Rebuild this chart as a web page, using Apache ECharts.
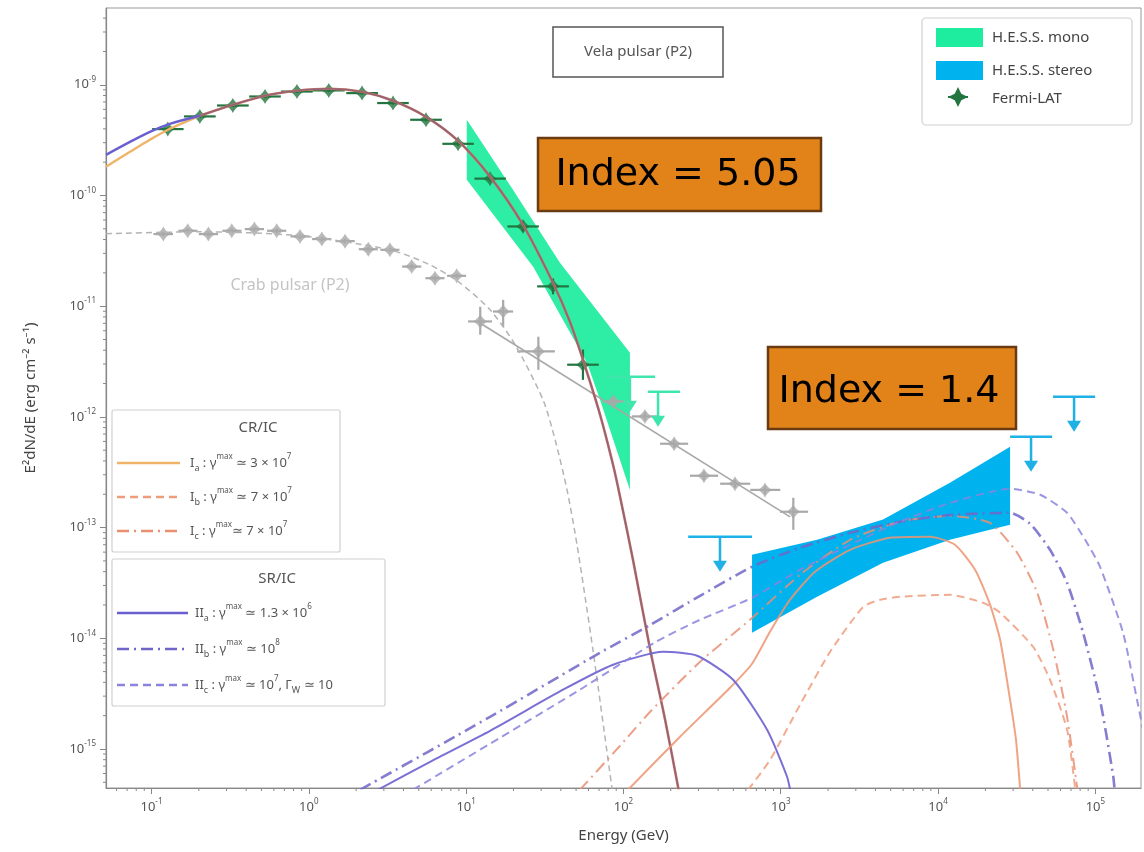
<!DOCTYPE html>
<html><head><meta charset="utf-8">
<script src="https://cdn.jsdelivr.net/npm/echarts@6/dist/echarts.min.js"></script>
<style>html,body{margin:0;padding:0;background:#fff}#c{width:1144px;height:852px}</style>
</head><body><div id="c"></div>
<script>
// ---------- Data ----------
// Fermi-LAT Vela points
const fermiE   = [0.127,0.203,0.329,0.527,0.841,1.34,2.18,3.43,5.56,8.89,14.2,23.0,35.7,55.3];
const fermiF   = [3.98e-10,5.18e-10,6.50e-10,7.84e-10,8.69e-10,8.88e-10,8.41e-10,6.84e-10,4.83e-10,2.93e-10,1.42e-10,5.25e-11,1.51e-11,2.96e-12];
const fermiElo = [0.101,0.161,0.261,0.418,0.667,1.06,1.73,2.72,4.41,7.06,11.3,18.3,28.3,43.9];
const fermiEhi = [0.160,0.256,0.415,0.664,1.06,1.69,2.75,4.32,7.01,11.2,17.9,29.0,45.0,69.7];
const fermiFlo = [3.85e-10,5.02e-10,6.30e-10,7.60e-10,8.43e-10,8.61e-10,8.15e-10,6.63e-10,4.65e-10,2.80e-10,1.33e-10,4.73e-11,1.28e-11,2.16e-12];
const fermiFhi = [4.11e-10,5.34e-10,6.70e-10,8.08e-10,8.95e-10,9.15e-10,8.67e-10,7.05e-10,5.01e-10,3.06e-10,1.51e-10,5.83e-11,1.78e-11,4.06e-12];

// Crab pulsar (P2) points
const crabE   = [0.119,0.170,0.230,0.324,0.451,0.625,0.879,1.21,1.70,2.39,3.28,4.51,6.34,8.71,12.3,17.2,28.8,86.3,137,210,325,512,794,1202];
const crabF   = [4.48e-11,4.80e-11,4.48e-11,4.80e-11,4.97e-11,4.80e-11,4.27e-11,4.04e-11,3.87e-11,3.27e-11,3.23e-11,2.28e-11,1.79e-11,1.88e-11,7.28e-12,8.95e-12,3.90e-12,1.38e-12,1.01e-12,5.72e-13,2.94e-13,2.49e-13,2.19e-13,1.39e-13];
const crabElo = [0.103,0.148,0.200,0.282,0.392,0.543,0.764,1.05,1.48,2.08,2.85,3.92,5.51,7.57,10.3,14.8,21.1,74.3,113,171,265,412,640,990];
const crabEhi = [0.137,0.196,0.265,0.373,0.519,0.719,1.01,1.39,1.96,2.75,3.77,5.19,7.29,10.0,14.6,19.9,36.7,101,166,258,400,640,993,1493];
const crabFlo = [4.27e-11,4.57e-11,4.27e-11,4.57e-11,4.73e-11,4.57e-11,4.07e-11,3.85e-11,3.69e-11,3.11e-11,3.08e-11,2.17e-11,1.70e-11,1.79e-11,5.52e-12,6.52e-12,2.66e-12,1.27e-12,9.3e-13,5.25e-13,2.70e-13,2.29e-13,2.01e-13,9.55e-14];
const crabFhi = [4.70e-11,5.04e-11,4.70e-11,5.04e-11,5.22e-11,5.04e-11,4.48e-11,4.24e-11,4.06e-11,3.43e-11,3.39e-11,2.39e-11,1.88e-11,1.97e-11,9.88e-12,1.14e-11,5.30e-12,1.50e-12,1.10e-12,6.23e-13,3.20e-13,2.71e-13,2.38e-13,1.86e-13];

// Crab power-law (solid grey) and model (dashed grey)
const crabPlE = [11.9, 1146];
const crabPlF = [7.23e-12, 1.25e-13];
const crabModelE = [0.0514,0.203,0.879,3.28,5.90,9.15,14.2,20.5,30.8,36.8,43.8,50.7,64.0,84.5,88.7];
const crabModelF = [4.51e-11,4.70e-11,4.33e-11,3.23e-11,2.36e-11,1.62e-11,9.27e-12,4.48e-12,1.43e-12,6.21e-13,2.19e-13,7.00e-14,7.87e-15,4.47e-16,2.82e-16];

// Vela curvature component (shared) and low-energy branches
const velaCurveE = [0.203,0.330,0.526,0.841,1.34,2.18,3.43,5.56,8.89,14.2,23.0,35.7,45.7,55.3,71.0,85.9,95.2,115,148,184,223,236];
const velaCurveF = [5.25e-10,6.59e-10,7.96e-10,8.83e-10,9.20e-10,8.65e-10,7.17e-10,5.14e-10,3.12e-10,1.48e-10,5.43e-11,1.62e-11,7.23e-12,3.28e-12,1.05e-12,3.69e-13,1.90e-13,5.12e-14,7.87e-15,1.84e-15,4.47e-16,2.82e-16];
const lowE   = [0.0514,0.0730,0.0977,0.131,0.203];
const iiaLowF = [2.33e-10,3.05e-10,3.76e-10,4.44e-10,5.25e-10];
const iaLowF  = [1.82e-10,2.48e-10,3.19e-10,4.01e-10,5.25e-10];

// IC components
const iiaE = [2.75,5.90,14.2,41.3,85.9,179,294,498,819,1097,1180];
const iiaF = [4.28e-16,7.66e-16,1.46e-15,3.43e-15,5.77e-15,7.55e-15,6.95e-15,4.22e-15,1.49e-15,5.61e-16,3.47e-16];
const iibE = [2.12,14.2,71.0,148,307,657,1327,2760,5740,11900,28700,38500,51500,66100,83600,107000,130000,134000];
const iibF = [4.28e-16,1.95e-15,7.40e-15,1.32e-14,2.42e-14,4.43e-14,6.57e-14,8.97e-14,1.13e-13,1.30e-13,1.36e-13,1.08e-13,6.30e-14,3.17e-14,1.12e-14,2.78e-15,5.61e-16,3.47e-16];
const iicE = [4.60,16.4,52.9,161,307,657,1327,2760,5740,11900,28700,44600,66100,86100,107000,150000,184000,207000];
const iicF = [4.28e-16,1.26e-15,3.43e-15,9.29e-15,1.47e-14,2.32e-14,4.16e-14,7.00e-14,1.13e-13,1.67e-13,2.24e-13,1.98e-13,1.36e-13,7.76e-14,4.43e-14,1.12e-14,2.78e-15,1.21e-15];
const iaE = [107,229,476,657,856,1146,1650,2760,4950,8900,12800,17200,21400,24800,28700,31300,33200,33700];
const iaF = [4.28e-16,1.29e-15,3.57e-15,5.89e-15,1.15e-14,2.23e-14,3.99e-14,6.30e-14,8.09e-14,8.26e-14,7.00e-14,4.16e-14,2.01e-14,9.69e-15,2.78e-15,1.21e-15,4.47e-16,3.47e-16];
const ibE = [620,856,1327,2060,3340,4280,5740,11900,19400,24800,40200,51500,66100,74300,75400];
const ibF = [4.28e-16,7.98e-16,2.51e-15,7.55e-15,1.92e-14,2.23e-14,2.37e-14,2.47e-14,2.09e-14,1.70e-14,8.38e-15,4.22e-15,1.49e-15,4.47e-16,3.47e-16];
const icE = [52.9,95.2,148,307,638,1327,2760,5740,11900,21400,31800,42700,54000,66100,76600,77600];
const icF = [4.28e-16,1.07e-15,2.17e-15,6.14e-15,1.47e-14,3.75e-14,7.76e-14,1.13e-13,1.28e-13,1.10e-13,5.92e-14,2.58e-14,7.87e-15,1.95e-15,4.47e-16,3.47e-16];

// H.E.S.S. butterflies
const monoE = [10.1,19.9,39.5,110,110,71.0,58.7,26.7,10.1];
const monoF = [4.83e-10,1.12e-10,2.47e-11,3.79e-12,2.19e-13,1.43e-12,3.08e-12,2.27e-11,1.39e-10];
const stereoE = [657,1702,4470,11900,28700,28700,11900,4470,1702,657];
const stereoF = [5.68e-14,7.76e-14,1.18e-13,2.54e-13,5.37e-13,1.06e-13,7.76e-14,4.81e-14,2.37e-14,1.12e-14];

// Upper limits
const monoUlE = [110,166], monoUlElo = [76.4,143], monoUlEhi = [159,229], monoUlF = [2.30e-12,1.69e-12];
const stereoUlE = [411,39000,73200], stereoUlElo = [258,28700,53800], stereoUlEhi = [657,53100,99600], stereoUlF = [8.26e-14,6.61e-13,1.52e-12];

// Text
const crLegend = ['{n|I}{sub|a}{n| : γ}{sup|max}{n| ≃ 3 × 10}{sup|7}','{n|I}{sub|b}{n| : γ}{sup|max}{n| ≃ 7 × 10}{sup|7}','{n|I}{sub|c}{n| : γ}{sup|max}{n|≃ 7 × 10}{sup|7}'];
const srLegend = ['{n|II}{sub|a}{n| : γ}{sup|max}{n| ≃ 1.3 × 10}{sup|6}','{n|II}{sub|b}{n| : γ}{sup|max}{n| ≃ 10}{sup|8}','{n|II}{sub|c}{n| : γ}{sup|max}{n| ≃ 10}{sup|7}{n|, Γ}{sub|W}{n| ≃ 10}'];

// ---------- Chart ----------
const xMin = 0.0514, xMax = 1.95e5, yMin = 4.44e-16, yMax = 4.94e-9;
const FONT = 'Noto Sans';
const zip = (a, b) => a.map((v, i) => [v, b[i]]);

const xMinor = [], yMinor = [];
for (let k = -2; k <= 5; k++) for (let d = 2; d <= 9; d++) { const v = d * Math.pow(10, k); if (v > xMin && v < xMax) xMinor.push(v); }
for (let k = -16; k <= -9; k++) for (let d = 2; d <= 9; d++) { const v = d * Math.pow(10, k); if (v > yMin && v < yMax) yMinor.push(v); }

function lineS(E, F, color, width, type, opacity, smooth) {
  return { type: 'line', data: zip(E, F), symbol: 'none', clip: true, smooth: smooth === undefined ? 0.2 : smooth,
    silent: true, lineStyle: { color, width, type: type || 'solid', opacity: opacity === undefined ? 0.9 : opacity, cap: 'butt' } };
}
function polyS(E, F, color) {
  const pts = zip(E, F);
  return { type: 'custom', data: pts, encode: { x: 0, y: 1 }, silent: true,
    renderItem: (params, api) => {
      if (params.dataIndex !== 0) return null;
      return { type: 'polygon', shape: { points: pts.map(p => api.coord(p)) }, style: { fill: color } };
    } };
}
function errS(E, F, Elo, Ehi, Flo, Fhi, color, w) {
  return { type: 'custom', data: E.map((e, i) => [e, F[i], Elo[i], Ehi[i], Flo[i], Fhi[i]]), encode: { x: 0, y: 1 }, silent: true,
    renderItem: (params, api) => {
      const f = api.value(1), e = api.value(0);
      const a = api.coord([api.value(2), f]), b = api.coord([api.value(3), f]);
      const c = api.coord([e, api.value(4)]), d = api.coord([e, api.value(5)]);
      return { type: 'group', children: [
        { type: 'line', shape: { x1: a[0], y1: a[1], x2: b[0], y2: b[1] }, style: { stroke: color, lineWidth: w } },
        { type: 'line', shape: { x1: c[0], y1: c[1], x2: d[0], y2: d[1] }, style: { stroke: color, lineWidth: w } }
      ] };
    } };
}
function ulS(E, Elo, Ehi, F, color) {
  return { type: 'custom', data: E.map((e, i) => [e, F[i], Elo[i], Ehi[i]]), encode: { x: 0, y: 1 }, silent: true,
    renderItem: (params, api) => {
      const f = api.value(1);
      const a = api.coord([api.value(2), f]), b = api.coord([api.value(3), f]), c = api.coord([api.value(0), f]);
      const tip = c[1] + 35;
      return { type: 'group', children: [
        { type: 'line', shape: { x1: a[0], y1: a[1], x2: b[0], y2: b[1] }, style: { stroke: color, lineWidth: 2.5 } },
        { type: 'line', shape: { x1: c[0], y1: c[1], x2: c[0], y2: tip - 9 }, style: { stroke: color, lineWidth: 2.5 } },
        { type: 'polygon', shape: { points: [[c[0] - 7, tip - 11], [c[0] + 7, tip - 11], [c[0], tip]] }, style: { fill: color } }
      ] };
    } };
}
function minorS(vals, isX) {
  return { type: 'custom', data: vals.map(v => isX ? [v, yMax] : [xMin, v]), encode: { x: 0, y: 1 }, silent: true, clip: false,
    renderItem: (params, api) => {
      const p = api.coord([api.value(0), api.value(1)]);
      const cs = params.coordSys;
      if (isX) { const b = cs.y + cs.height; return { type: 'line', shape: { x1: p[0], y1: b, x2: p[0], y2: b + 3 }, style: { stroke: '#888', lineWidth: 1 } }; }
      return { type: 'line', shape: { x1: cs.x - 3, y1: p[1], x2: cs.x, y2: p[1] }, style: { stroke: '#888', lineWidth: 1 } };
    } };
}

const STAR = 'path://M0,-10 Q3.2,-3.2 10,0 Q3.2,3.2 0,10 Q-3.2,3.2 -10,0 Q-3.2,-3.2 0,-10 Z';
const fmt = v => '{b|10}{s|' + Math.round(Math.log10(v)) + '}';
const labRich = { b: { fontSize: 13, color: '#555', fontFamily: FONT, lineHeight: 18 }, s: { fontSize: 8, color: '#555', fontFamily: FONT, lineHeight: 10, verticalAlign: 'top' } };

const C = { ia: '#f0b468', iaIC: '#ec9470', ib: '#ee9c7c', ic: '#e88e72', iia: '#6a5fd0', iib: '#6f66c8', iic: '#8a84dc' };
const DASH = [8, 5], DASHDOT = [12, 5, 2, 5];

const series = [
  minorS(xMinor, true), minorS(yMinor, false),
  // crab model lines
  lineS(crabModelE, crabModelF, '#b4b4b4', 1.5, [6, 4], 1, 0.25),
  lineS(crabPlE, crabPlF, '#a8a8a8', 1.6, 'solid', 1, 0),
  // vela curvature (orange base under the band)
  lineS(velaCurveE, velaCurveF, '#c8785c', 2.6, 'solid', 1, 0.3),
  lineS(lowE, iaLowF, C.ia, 2.4, 'solid', 1, 0.3),
  lineS(lowE, iiaLowF, C.iia, 2.4, 'solid', 1, 0.3),
  // bands
  polyS(monoE, monoF, 'rgba(30,236,158,0.93)'),
  polyS(stereoE, stereoF, '#00b3ef'),
  lineS(velaCurveE, velaCurveF, '#3c36b0', 1.6, 'solid', 0.35, 0.3),
  // IC components
  lineS(iaE, iaF, C.iaIC, 2, 'solid', 0.85),
  lineS(ibE, ibF, C.ib, 2, DASH, 0.85),
  lineS(icE, icF, C.ic, 2, DASHDOT, 0.85),
  lineS(iiaE, iiaF, C.iia, 2, 'solid', 0.9),
  lineS(iibE, iibF, C.iib, 2.6, DASHDOT, 0.85),
  lineS(iicE, iicF, C.iic, 2, DASH, 0.85),
  // crab points
  errS(crabE, crabF, crabElo, crabEhi, crabFlo, crabFhi, '#a9a9a9', 2.2),
  { type: 'scatter', data: zip(crabE, crabF), symbol: STAR, symbolSize: 15, silent: true, itemStyle: { color: '#a9a9a9' } },
  // fermi points
  errS(fermiE, fermiF, fermiElo, fermiEhi, fermiFlo, fermiFhi, '#22753f', 2.2),
  { type: 'scatter', data: zip(fermiE, fermiF), symbol: STAR, symbolSize: 15, silent: true, itemStyle: { color: '#22753f' } },
  // upper limits
  ulS(monoUlE, monoUlElo, monoUlEhi, monoUlF, '#3ee6ae'),
  ulS(stereoUlE, stereoUlElo, stereoUlEhi, stereoUlF, '#1fb0e6')
];

const txt = (x, y, text, size, color, extra) => ({ type: 'text', x, y, z: 100, style: Object.assign({ text, fontSize: size, fill: color, fontFamily: FONT, align: 'center', verticalAlign: 'middle' }, extra || {}) });
const legRich = {
  n: { fontSize: 13, color: '#555', fontFamily: FONT, lineHeight: 20 },
  sub: { fontSize: 9, color: '#555', fontFamily: FONT, lineHeight: 12, verticalAlign: 'bottom' },
  sup: { fontSize: 8, color: '#555', fontFamily: FONT, lineHeight: 12, verticalAlign: 'top' }
};
const legLine = (x1, x2, y, color, dash, w) => ({ type: 'line', z: 100, shape: { x1, y1: y, x2, y2: y }, style: { stroke: color, lineWidth: w || 2.5, lineDash: dash || null } });
const star = (cx, cy, r) => ({ type: 'polygon', z: 100, shape: { points: [[cx, cy - r], [cx + r * 0.33, cy - r * 0.33], [cx + r, cy], [cx + r * 0.33, cy + r * 0.33], [cx, cy + r], [cx - r * 0.33, cy + r * 0.33], [cx - r, cy], [cx - r * 0.33, cy - r * 0.33]] }, style: { fill: '#22753f' } });

const graphic = [
  // Vela label
  { type: 'rect', z: 90, shape: { x: 553, y: 27, width: 170, height: 50 }, style: { fill: '#fff', stroke: '#555', lineWidth: 1.5 } },
  txt(638, 52, 'Vela pulsar (P2)', 15, '#555'),
  txt(290, 285, 'Crab pulsar (P2)', 16, '#c4c4c4'),
  // Index boxes
  { type: 'rect', z: 90, shape: { x: 538, y: 138, width: 283, height: 73 }, style: { fill: '#e2831a', stroke: '#6a3a10', lineWidth: 2.5 } },
  txt(678, 175, 'Index = 5.05', 38, '#000', { fontFamily: 'DejaVu Sans' }),
  { type: 'rect', z: 90, shape: { x: 768, y: 347, width: 248, height: 82 }, style: { fill: '#e2831a', stroke: '#6a3a10', lineWidth: 2.5 } },
  txt(889, 392, 'Index = 1.4', 38, '#000', { fontFamily: 'DejaVu Sans' }),
  // top-right legend
  { type: 'rect', z: 90, shape: { x: 922, y: 18, width: 210, height: 107, r: 4 }, style: { fill: '#fff', stroke: '#d0d0d0', lineWidth: 1.2 } },
  { type: 'rect', z: 100, shape: { x: 936, y: 28, width: 47, height: 19 }, style: { fill: '#1eec9e' } },
  { type: 'rect', z: 100, shape: { x: 936, y: 61, width: 47, height: 19 }, style: { fill: '#00b3ef' } },
  legLine(948, 968, 97, '#22753f', null, 2),
  star(958, 97, 10),
  txt(992, 38, 'H.E.S.S. mono', 15, '#444', { align: 'left' }),
  txt(992, 71, 'H.E.S.S. stereo', 15, '#444', { align: 'left' }),
  txt(992, 99, 'Fermi-LAT', 15, '#444', { align: 'left' }),
  // CR/IC legend
  { type: 'rect', z: 90, shape: { x: 112, y: 410, width: 228, height: 142, r: 2 }, style: { fill: '#fff', stroke: '#d0d0d0', lineWidth: 1.2 } },
  txt(258, 428, 'CR/IC', 15, '#555'),
  legLine(117, 180, 463, C.ia), legLine(117, 180, 497, C.ib, DASH), legLine(117, 180, 531, C.ic, DASHDOT),
  txt(190, 463, crLegend[0], 13, '#555', { align: 'left', rich: legRich }),
  txt(190, 497, crLegend[1], 13, '#555', { align: 'left', rich: legRich }),
  txt(190, 531, crLegend[2], 13, '#555', { align: 'left', rich: legRich }),
  // SR/IC legend
  { type: 'rect', z: 90, shape: { x: 112, y: 559, width: 273, height: 147, r: 2 }, style: { fill: '#fff', stroke: '#d0d0d0', lineWidth: 1.2 } },
  txt(277, 579, 'SR/IC', 15, '#555'),
  legLine(117, 188, 613, C.iia), legLine(117, 188, 649, C.iib, DASHDOT), legLine(117, 188, 685, C.iic, DASH),
  txt(195, 613, srLegend[0], 13, '#555', { align: 'left', rich: legRich }),
  txt(195, 649, srLegend[1], 13, '#555', { align: 'left', rich: legRich }),
  txt(195, 685, srLegend[2], 13, '#555', { align: 'left', rich: legRich })
];

const chart = echarts.init(document.getElementById('c'), null, { renderer: 'canvas' });
chart.setOption({
  animation: false,
  backgroundColor: '#fff',
  textStyle: { fontFamily: FONT },
  grid: { left: 106, right: 3, top: 8, bottom: 64, show: true, borderColor: '#999', borderWidth: 1 },
  xAxis: {
    type: 'log', logBase: 10, min: xMin, max: xMax,
    name: 'Energy (GeV)', nameLocation: 'middle', nameGap: 40,
    nameTextStyle: { fontSize: 15, color: '#444', fontFamily: FONT },
    axisLine: { lineStyle: { color: '#888', width: 1.2 } },
    axisTick: { length: 6, lineStyle: { color: '#888' } },
    splitLine: { show: false },
    axisLabel: { formatter: fmt, rich: labRich, margin: 10, showMinLabel: false, showMaxLabel: false }
  },
  yAxis: {
    type: 'log', logBase: 10, min: yMin, max: yMax,
    name: 'E²dN/dE (erg cm⁻² s⁻¹)', nameLocation: 'middle', nameGap: 68, nameRotate: 90,
    nameTextStyle: { fontSize: 15, color: '#444', fontFamily: FONT },
    axisLine: { lineStyle: { color: '#888', width: 1.2 } },
    axisTick: { length: 6, lineStyle: { color: '#888' } },
    splitLine: { show: false },
    axisLabel: { formatter: fmt, rich: labRich, margin: 10, showMinLabel: false, showMaxLabel: false }
  },
  series,
  graphic
});
</script></body></html>
